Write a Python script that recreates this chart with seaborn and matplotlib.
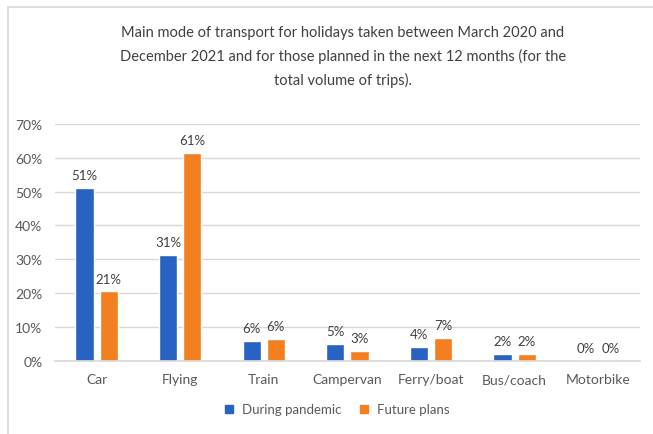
"""Main mode of transport for holidays: during pandemic vs future plans."""
import matplotlib.pyplot as plt
import pandas as pd
import seaborn as sns
from matplotlib.lines import Line2D
from matplotlib.ticker import PercentFormatter

categories = ["Car", "Flying", "Train", "Campervan", "Ferry/boat", "Bus/coach", "Motorbike"]
series_names = ["During pandemic", "Future plans"]
# rounded values as printed in the data labels
during_pandemic = [51, 31, 6, 5, 4, 2, 0]
future_plans = [21, 61, 6, 3, 7, 2, 0]
# bar heights (slightly off the rounded labels)
during_pandemic_height = [51.0, 31.2, 6.0, 5.0, 4.0, 2.1, 0.0]
future_plans_height = [20.5, 61.3, 6.5, 2.8, 6.8, 2.1, 0.0]
y_ticks = [0, 10, 20, 30, 40, 50, 60, 70]

TITLE = (
    "Main mode of transport for holidays taken between March 2020 and\n"
    "December 2021 and for those planned in the next 12 months (for the\n"
    "total volume of trips)."
)
COLORS = ["#2862c2", "#f37f20"]
TEXT_GREY = "#595959"

# Long format table for seaborn
df = pd.DataFrame({
    "mode": categories * 2,
    "height": during_pandemic_height + future_plans_height,
    "series": [series_names[0]] * len(categories) + [series_names[1]] * len(categories),
})

sns.set_theme(style="white")
plt.rcParams["font.family"] = ["Lato", "DejaVu Sans"]

fig = plt.figure(figsize=(6.53, 4.35), dpi=100)
ax = fig.add_axes([0.084, 0.168, 0.896, 0.545])

sns.barplot(
    data=df, x="mode", y="height", hue="series", order=categories,
    hue_order=series_names, palette=COLORS, width=0.58, gap=0.25,
    saturation=1, ax=ax, legend=False,
)

# Data labels from the rounded values
for container, values in zip(ax.containers, [during_pandemic, future_plans]):
    ax.bar_label(container, labels=[f"{v}%" for v in values], padding=5,
                 fontsize=9.5, color="#404040")

ax.set_ylim(0, 70)
ax.set_yticks(y_ticks)
ax.yaxis.set_major_formatter(PercentFormatter(decimals=0))
ax.grid(axis="y", color="#d9d9d9", linewidth=1)
ax.set_axisbelow(True)
for side in ["top", "right", "left"]:
    ax.spines[side].set_visible(False)
ax.spines["bottom"].set_color("#d9d9d9")
ax.set_xlim(-0.5, len(categories) - 0.5)
ax.set_xlabel("")
ax.set_ylabel("")
ax.tick_params(axis="both", length=0, labelsize=10, labelcolor=TEXT_GREY)
ax.tick_params(axis="x", pad=9)
ax.tick_params(axis="y", pad=9)

# Title
fig.text(0.525, 0.94, TITLE, ha="center", va="top", fontsize=10.5,
         color="#404040", linespacing=1.75)

# Legend
handles = [Line2D([], [], marker="s", linestyle="", markersize=6, color=c) for c in COLORS]
fig.legend(handles, series_names, loc="center", bbox_to_anchor=(0.51, 0.057),
           ncol=2, frameon=False, fontsize=9.5, labelcolor=TEXT_GREY,
           handletextpad=0.0, columnspacing=0.7)

# Light frame around the chart (top and left edges visible)
fig.add_artist(Line2D([8 / 653, 1], [1 - 8 / 435, 1 - 8 / 435], color="#d9d9d9",
                      linewidth=1.2, transform=fig.transFigure))
fig.add_artist(Line2D([8 / 653, 8 / 653], [0, 1 - 8 / 435], color="#d9d9d9",
                      linewidth=1.2, transform=fig.transFigure))

fig.savefig("out.png", dpi=100)
plt.close(fig)
